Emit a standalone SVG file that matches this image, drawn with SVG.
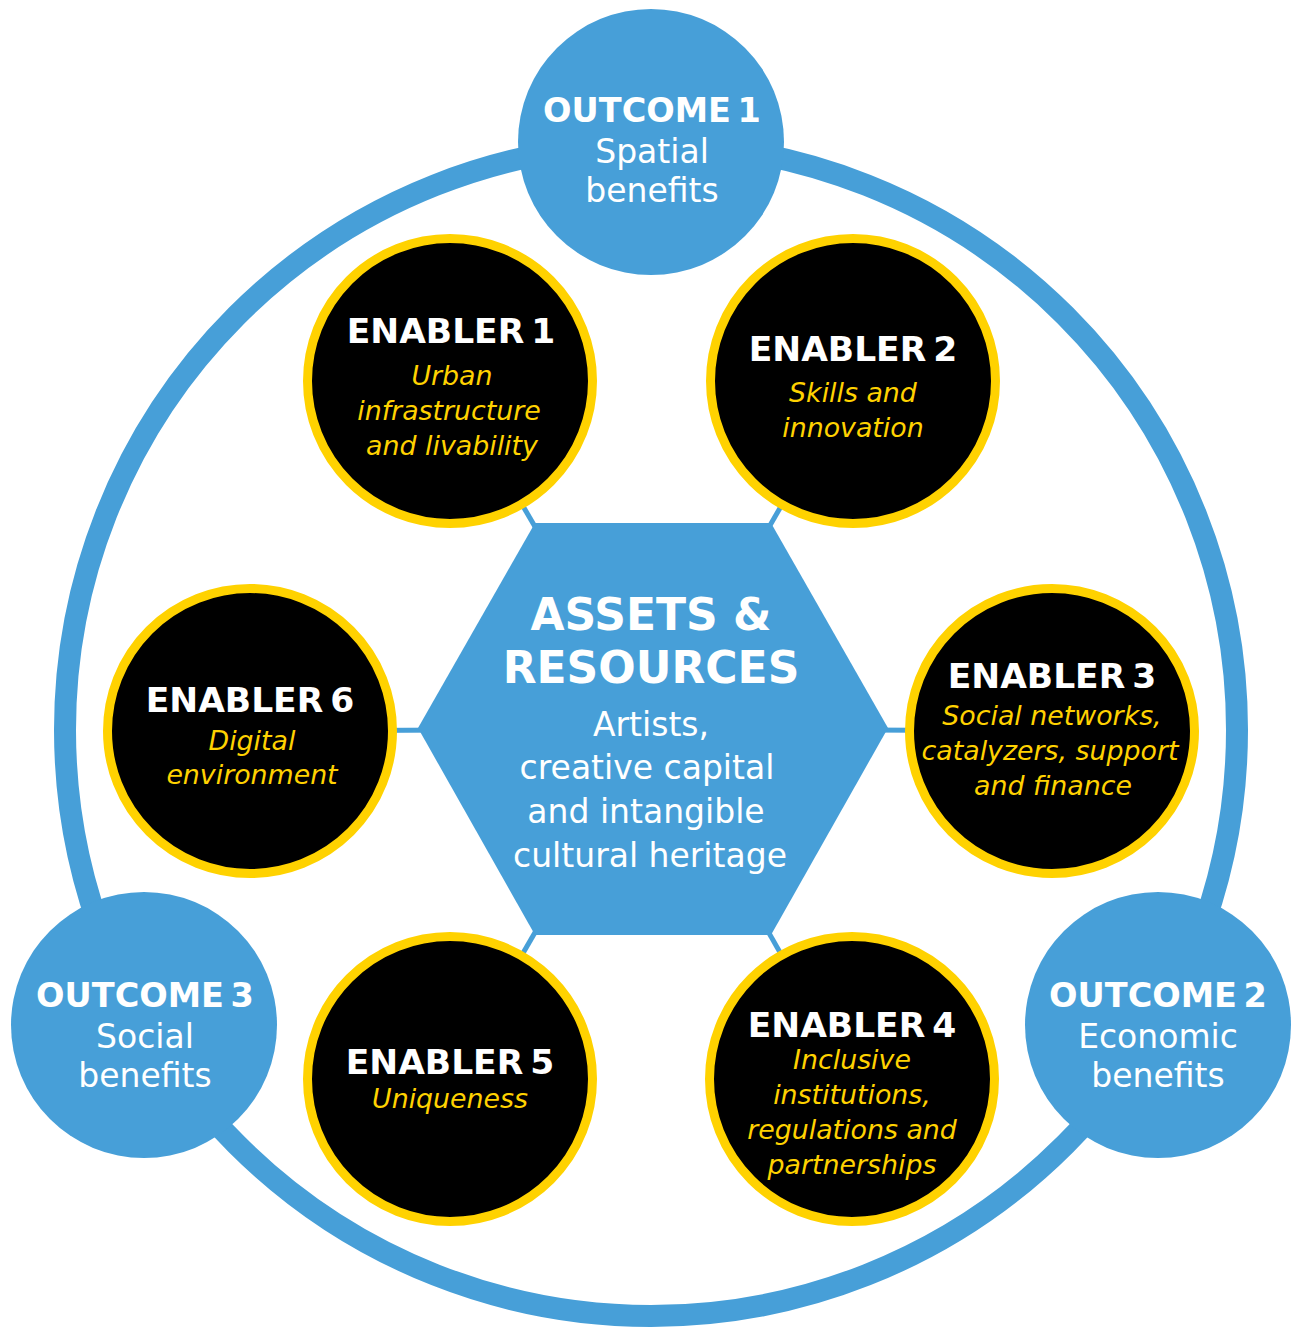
<svg xmlns="http://www.w3.org/2000/svg" width="1291" height="1327" viewBox="0 0 1291 1327">
<style>
.ring{fill:none;stroke:#479fd8;stroke-width:22}
.conn{stroke:#479fd8;stroke-width:5}
.out{fill:#479fd8}
.en{fill:#000;stroke:#ffd200;stroke-width:9}
.h{font-family:"DejaVu Sans",sans-serif;font-weight:bold;fill:#fff;text-anchor:middle}
.ho{font-size:33.5px;word-spacing:-5px}
.he{font-size:34.5px;word-spacing:-5px}
.r{font-family:"DejaVu Sans",sans-serif;fill:#fff;text-anchor:middle;font-size:33px}
.i{font-family:"DejaVu Sans",sans-serif;font-style:italic;fill:#ffd200;text-anchor:middle;font-size:26.8px}
</style>
<rect width="1291" height="1327" fill="#fff"/>
<circle class="ring" cx="651" cy="730" r="586"/>
<g id="connectors">
<line class="conn" x1="653" y1="729" x2="450" y2="381"/>
<line class="conn" x1="653" y1="729" x2="853" y2="381"/>
<line class="conn" x1="653" y1="729" x2="1052" y2="731"/>
<line class="conn" x1="653" y1="729" x2="852" y2="1079"/>
<line class="conn" x1="653" y1="729" x2="450" y2="1079"/>
<line class="conn" x1="653" y1="729" x2="250" y2="731"/>
</g>
<g id="assets">
<polygon fill="#479fd8" points="418,728 535,523 771,523 888,728 771,935 535,935"/>
<text class="h" font-size="44" x="651" y="630">ASSETS &amp;</text>
<text class="h" font-size="44" x="651" y="683">RESOURCES</text>
<text class="r" x="651" y="736">Artists,</text>
<text class="r" x="647" y="779">creative capital</text>
<text class="r" x="646" y="823">and intangible</text>
<text class="r" x="650" y="867">cultural heritage</text>
</g>
<g id="outcome1">
<circle class="out" cx="651" cy="142" r="133"/>
<text class="h ho" x="652" y="122">OUTCOME 1</text>
<text class="r" x="652" y="163">Spatial</text>
<text class="r" x="652" y="202">benefits</text>
</g>
<g id="outcome2">
<circle class="out" cx="1158" cy="1025" r="133"/>
<text class="h ho" x="1158" y="1007">OUTCOME 2</text>
<text class="r" x="1158" y="1048">Economic</text>
<text class="r" x="1158" y="1087">benefits</text>
</g>
<g id="outcome3">
<circle class="out" cx="144" cy="1025" r="133"/>
<text class="h ho" x="145" y="1007">OUTCOME 3</text>
<text class="r" x="145" y="1048">Social</text>
<text class="r" x="145" y="1087">benefits</text>
</g>
<g id="enabler1">
<circle class="en" cx="450" cy="381" r="142.5"/>
<text class="h he" x="451" y="343">ENABLER 1</text>
<text class="i" x="452" y="385">Urban</text>
<text class="i" x="449" y="420">infrastructure</text>
<text class="i" x="452" y="455">and livability</text>
</g>
<g id="enabler2">
<circle class="en" cx="853" cy="381" r="142.5"/>
<text class="h he" x="853" y="361">ENABLER 2</text>
<text class="i" x="853" y="402">Skills and</text>
<text class="i" x="853" y="437">innovation</text>
</g>
<g id="enabler3">
<circle class="en" cx="1052" cy="731" r="142.5"/>
<text class="h he" x="1052" y="688">ENABLER 3</text>
<text class="i" x="1052" y="725">Social networks,</text>
<text class="i" x="1050" y="760">catalyzers, support</text>
<text class="i" x="1053" y="795">and finance</text>
</g>
<g id="enabler4">
<circle class="en" cx="852" cy="1079" r="142.5"/>
<text class="h he" x="852" y="1037">ENABLER 4</text>
<text class="i" x="852" y="1069">Inclusive</text>
<text class="i" x="852" y="1104">institutions,</text>
<text class="i" x="852" y="1139">regulations and</text>
<text class="i" x="852" y="1174">partnerships</text>
</g>
<g id="enabler5">
<circle class="en" cx="450" cy="1079" r="142.5"/>
<text class="h he" x="450" y="1074">ENABLER 5</text>
<text class="i" x="450" y="1108">Uniqueness</text>
</g>
<g id="enabler6">
<circle class="en" cx="250" cy="731" r="142.5"/>
<text class="h he" x="250" y="712">ENABLER 6</text>
<text class="i" x="252" y="750">Digital</text>
<text class="i" x="252" y="784">environment</text>
</g>
</svg>
